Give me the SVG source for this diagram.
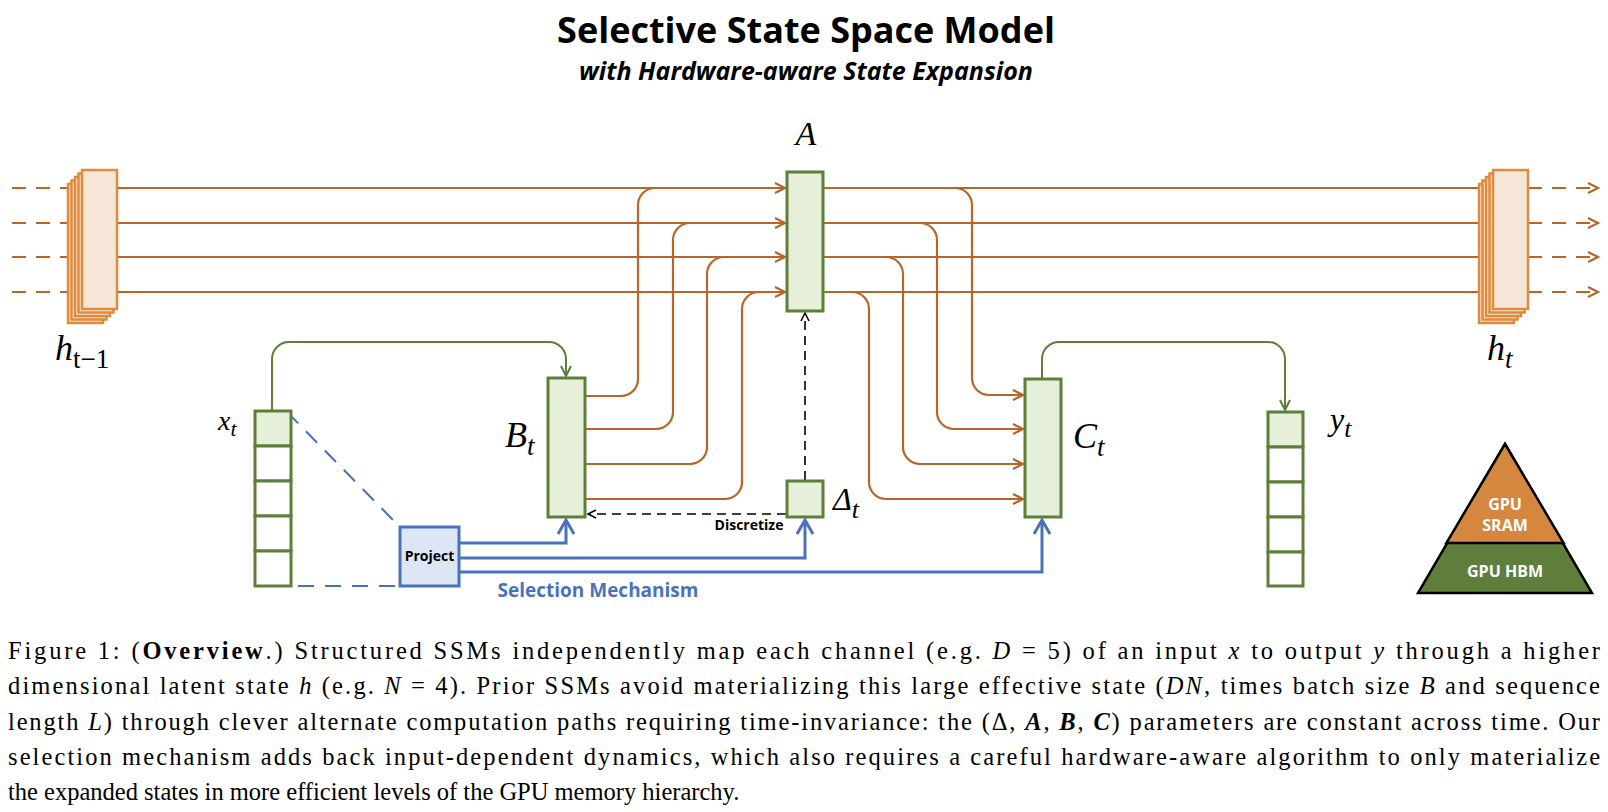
<svg xmlns="http://www.w3.org/2000/svg" width="1608" height="812" viewBox="0 0 1608 812">
<defs>
<style>
.or{fill:none;stroke:#B8652A;stroke-width:2.2}
.ord{fill:none;stroke:#B8652A;stroke-width:2.2;stroke-dasharray:14,10}
.stk{fill:#F6E6D8;stroke:#E08A3C;stroke-width:2.5}
.gb{fill:#E6EFD9;stroke:#5E7F3A;stroke-width:3}
.gw{fill:#FFFFFF;stroke:#5E7F3A;stroke-width:3}
.gl{fill:none;stroke:#5E7F3A;stroke-width:2}
.bl{fill:none;stroke:#4A72B8;stroke-width:3}
.bld{fill:none;stroke:#4A72B8;stroke-width:2;stroke-dasharray:16,11}
.kd{fill:none;stroke:#000;stroke-width:1.6;stroke-dasharray:9,6}
.math{font-family:"Liberation Serif","DejaVu Serif",serif;font-style:italic;fill:#000}
.sans{font-family:"Open Sans","Noto Sans",sans-serif;font-weight:bold}
.cap{font-family:"Liberation Serif","DejaVu Serif",serif;font-size:24.5px;fill:#000}
</style>
<marker id="ao" markerUnits="userSpaceOnUse" markerWidth="14" markerHeight="14" refX="11" refY="6" orient="auto"><path d="M1,1 L11,6 L1,11" fill="none" stroke="#B8652A" stroke-width="2.2"/></marker>
<marker id="ag" markerUnits="userSpaceOnUse" markerWidth="14" markerHeight="14" refX="11" refY="6" orient="auto"><path d="M1,1 L11,6 L1,11" fill="none" stroke="#5E7F3A" stroke-width="2"/></marker>
<marker id="ab" markerUnits="userSpaceOnUse" markerWidth="18" markerHeight="20" refX="15" refY="9" orient="auto"><path d="M1,1 L15,9 L1,17" fill="none" stroke="#4A72B8" stroke-width="3"/></marker>
<marker id="ak" markerUnits="userSpaceOnUse" markerWidth="12" markerHeight="12" refX="9" refY="5" orient="auto"><path d="M1,1 L9,5 L1,9" fill="none" stroke="#000" stroke-width="1.6"/></marker>
</defs>
<rect width="1608" height="812" fill="#fff"/>
<text x="806" y="43" text-anchor="middle" class="sans" font-size="36" fill="#000">Selective State Space Model</text>
<text x="806" y="80" text-anchor="middle" class="sans" font-size="25" font-style="italic" fill="#000">with Hardware-aware State Expansion</text>

<g id="connectors">
<path class="ord" d="M12,188 H80" marker-end="url(#ao)"/>
<path class="ord" d="M12,223 H80" marker-end="url(#ao)"/>
<path class="ord" d="M12,257 H80" marker-end="url(#ao)"/>
<path class="ord" d="M12,292 H80" marker-end="url(#ao)"/>
<path class="or" d="M117,188 H785" marker-end="url(#ao)"/>
<path class="or" d="M117,223 H785" marker-end="url(#ao)"/>
<path class="or" d="M117,257 H785" marker-end="url(#ao)"/>
<path class="or" d="M117,292 H785" marker-end="url(#ao)"/>
<path class="or" d="M823,188 H1491" marker-end="url(#ao)"/>
<path class="or" d="M823,223 H1491" marker-end="url(#ao)"/>
<path class="or" d="M823,257 H1491" marker-end="url(#ao)"/>
<path class="or" d="M823,292 H1491" marker-end="url(#ao)"/>
<path class="ord" d="M1528,188 H1598" marker-end="url(#ao)"/>
<path class="ord" d="M1528,223 H1598" marker-end="url(#ao)"/>
<path class="ord" d="M1528,257 H1598" marker-end="url(#ao)"/>
<path class="ord" d="M1528,292 H1598" marker-end="url(#ao)"/>
<path class="or" d="M585,396 H621 A17,17 0 0 0 638,379 V205 A17,17 0 0 1 655,188 H680"/>
<path class="or" d="M585,429 H656 A17,17 0 0 0 673,412 V240 A17,17 0 0 1 690,223 H710"/>
<path class="or" d="M585,464 H690 A17,17 0 0 0 707,447 V274 A17,17 0 0 1 724,257 H745"/>
<path class="or" d="M585,499 H725 A17,17 0 0 0 742,482 V309 A17,17 0 0 1 759,292 H775"/>
<path class="or" d="M940,188 H955 A17,17 0 0 1 972,205 V378 A17,17 0 0 0 989,395 H1023" marker-end="url(#ao)"/>
<path class="or" d="M905,223 H920 A17,17 0 0 1 937,240 V412 A17,17 0 0 0 954,429 H1023" marker-end="url(#ao)"/>
<path class="or" d="M871,257 H886 A17,17 0 0 1 903,274 V447 A17,17 0 0 0 920,464 H1023" marker-end="url(#ao)"/>
<path class="or" d="M837,292 H852 A17,17 0 0 1 869,309 V482 A17,17 0 0 0 886,499 H1023" marker-end="url(#ao)"/>
<path class="gl" d="M272,410 V359 A17,17 0 0 1 289,342 H549 A17,17 0 0 1 566,359 V376" marker-end="url(#ag)"/>
<path class="gl" d="M1042,378 V359 A17,17 0 0 1 1059,342 H1268 A17,17 0 0 1 1285,359 V410" marker-end="url(#ag)"/>
<path class="kd" d="M805,480 V313" marker-end="url(#ak)"/>
<path class="kd" d="M786,514 H588" marker-end="url(#ak)"/>
<path class="bld" d="M287,412 L398,525"/>
<path class="bld" d="M298,586 H399"/>
<path class="bl" d="M460,543 H566 V520" marker-end="url(#ab)"/>
<path class="bl" d="M460,558 H805 V520" marker-end="url(#ab)"/>
<path class="bl" d="M460,572 H1042 V520" marker-end="url(#ab)"/>
</g>

<g id="h_prev">
<rect class="stk" x="68" y="184" width="35" height="139"/>
<rect class="stk" x="71.5" y="180.5" width="35" height="139"/>
<rect class="stk" x="75" y="177" width="35" height="139"/>
<rect class="stk" x="78.5" y="173.5" width="35" height="139"/>
<rect class="stk" x="82" y="170" width="35" height="139"/>
<text x="55" y="360" class="math" font-size="36">h<tspan font-size="27" dy="8" font-style="normal">t−1</tspan></text>
</g>
<g id="h_t">
<rect class="stk" x="1479" y="184" width="35" height="139"/>
<rect class="stk" x="1482.5" y="180.5" width="35" height="139"/>
<rect class="stk" x="1486" y="177" width="35" height="139"/>
<rect class="stk" x="1489.5" y="173.5" width="35" height="139"/>
<rect class="stk" x="1493" y="170" width="35" height="139"/>
<text x="1487" y="360" class="math" font-size="36">h<tspan font-size="27" dy="8">t</tspan></text>
</g>
<g id="A">
<rect class="gb" x="787" y="172" width="36" height="139"/>
<text x="806" y="145" text-anchor="middle" class="math" font-size="34">A</text>
</g>
<g id="B">
<rect class="gb" x="548" y="378" width="37" height="139"/>
<text x="505" y="447" class="math" font-size="36">B<tspan font-size="27" dy="8">t</tspan></text>
</g>
<g id="C">
<rect class="gb" x="1025" y="379" width="36" height="138"/>
<text x="1073" y="448" class="math" font-size="36">C<tspan font-size="27" dy="8">t</tspan></text>
</g>
<g id="Delta">
<rect class="gb" x="787" y="481" width="36" height="36"/>
<text x="833" y="510" class="math" font-size="32" font-style="normal">Δ<tspan font-style="italic" font-size="26" dy="8">t</tspan></text>
<text x="749" y="530" text-anchor="middle" class="sans" font-size="14" fill="#000">Discretize</text>
</g>
<g id="x_t">
<rect class="gb" x="255" y="411" width="36" height="35"/>
<rect class="gw" x="255" y="446" width="36" height="35"/>
<rect class="gw" x="255" y="481" width="36" height="35"/>
<rect class="gw" x="255" y="516" width="36" height="35"/>
<rect class="gw" x="255" y="551" width="36" height="35"/>
<text x="218" y="430" class="math" font-size="28">x<tspan font-size="22" dy="6">t</tspan></text>
</g>
<g id="y_t">
<rect class="gb" x="1268" y="412" width="35" height="35"/>
<rect class="gw" x="1268" y="447" width="35" height="35"/>
<rect class="gw" x="1268" y="482" width="35" height="35"/>
<rect class="gw" x="1268" y="517" width="35" height="35"/>
<rect class="gw" x="1268" y="552" width="35" height="34"/>
<text x="1330" y="430" class="math" font-size="32">y<tspan font-size="26" dy="7">t</tspan></text>
</g>
<g id="Project">
<rect x="400" y="527" width="59" height="59" fill="#DDE6F4" stroke="#4A72B8" stroke-width="3"/>
<text x="429.5" y="561" text-anchor="middle" class="sans" font-size="14" fill="#000">Project</text>
<text x="598" y="597" text-anchor="middle" class="sans" font-size="19" fill="#4A72B8">Selection Mechanism</text>
</g>
<g id="gpu">
<polygon points="1505,444 1592,593 1418,593" fill="#5F7E3C" stroke="#000" stroke-width="2.5"/>
<polygon points="1505,444 1534,542 1476,542" fill="none"/>
<path d="M1505,444 L1563.6,543 L1446.4,543 Z" fill="#D5863F" stroke="#000" stroke-width="2.5"/>
<text x="1505" y="510" text-anchor="middle" class="sans" font-size="16" fill="#fff">GPU</text>
<text x="1505" y="531" text-anchor="middle" class="sans" font-size="16" fill="#fff">SRAM</text>
<text x="1505" y="577" text-anchor="middle" class="sans" font-size="16" fill="#fff">GPU HBM</text>
</g>

<g id="caption">
<text class="cap" x="8" y="659" textLength="1592" lengthAdjust="spacing">Figure 1: (<tspan font-weight="bold">Overview</tspan>.) Structured SSMs independently map each channel (e.g. <tspan font-style="italic">D</tspan> = 5) of an input <tspan font-style="italic">x</tspan> to output <tspan font-style="italic">y</tspan> through a higher</text>
<text class="cap" x="8" y="694" textLength="1592" lengthAdjust="spacing">dimensional latent state <tspan font-style="italic">h</tspan> (e.g. <tspan font-style="italic">N</tspan> = 4). Prior SSMs avoid materializing this large effective state (<tspan font-style="italic">DN</tspan>, times batch size <tspan font-style="italic">B</tspan> and sequence</text>
<text class="cap" x="8" y="730" textLength="1592" lengthAdjust="spacing">length <tspan font-style="italic">L</tspan>) through clever alternate computation paths requiring time-invariance: the (Δ, <tspan font-style="italic" font-weight="bold">A</tspan>, <tspan font-style="italic" font-weight="bold">B</tspan>, <tspan font-style="italic" font-weight="bold">C</tspan>) parameters are constant across time. Our</text>
<text class="cap" x="8" y="765" textLength="1592" lengthAdjust="spacing">selection mechanism adds back input-dependent dynamics, which also requires a careful hardware-aware algorithm to only materialize</text>
<text class="cap" x="8" y="800">the expanded states in more efficient levels of the GPU memory hierarchy.</text>
</g>
</svg>
